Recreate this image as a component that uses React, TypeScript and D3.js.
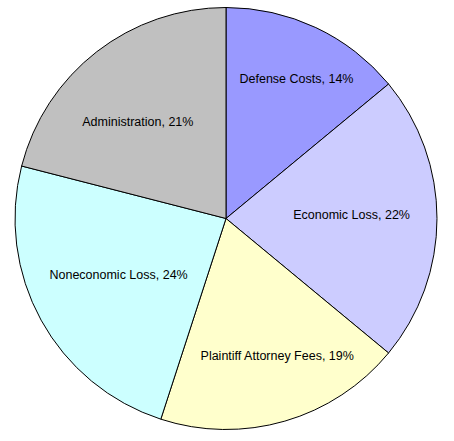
import React from "react";
import * as d3 from "d3";

const categories = ["Defense Costs", "Economic Loss", "Plaintiff Attorney Fees", "Noneconomic Loss", "Administration"];
const values = [14, 22, 19, 24, 21];
const colors = ["#9999FF", "#CCCCFF", "#FFFFCC", "#CCFFFF", "#C0C0C0"];
// label placement: radius fraction along mid-angle, plus nudge (style only)
const labelRadius = [0.74, 0.6, 0.7, 0.57, 0.62];
const labelNudge: [number, number][] = [[4, 2], [-1, -4], [10, -4], [-2, -1], [-8, 7]];

const W = 454;
const H = 441;
const CX = 226;
const CY = 218.5;
const R = 211;

export default function App() {
  const pie = d3.pie<number>().sort(null).value((d) => d);
  const arcs = pie(values);
  const arcGen = d3.arc<d3.PieArcDatum<number>>().innerRadius(0).outerRadius(R);

  return (
    <svg
      width={W}
      height={H}
      style={{ position: "fixed", left: 0, top: 0, background: "#fff", display: "block" }}
    >
      <rect x={0} y={0} width={W} height={H} fill="#fff" />
      <g transform={`translate(${CX},${CY})`}>
        {arcs.map((a, i) => (
          <path key={i} d={arcGen(a) || ""} fill={colors[i]} stroke="#000" strokeWidth={1} />
        ))}
        {arcs.map((a, i) => {
          const mid = (a.startAngle + a.endAngle) / 2;
          const d = labelRadius[i] * R;
          const x = Math.sin(mid) * d + labelNudge[i][0];
          const y = -Math.cos(mid) * d + labelNudge[i][1];
          return (
            <text
              key={"t" + i}
              x={x}
              y={y}
              textAnchor="middle"
              dominantBaseline="central"
              fontFamily="'Liberation Sans', Arial, sans-serif"
              fontSize={12.5}
              fill="#000"
            >
              {`${categories[i]}, ${values[i]}%`}
            </text>
          );
        })}
      </g>
    </svg>
  );
}
